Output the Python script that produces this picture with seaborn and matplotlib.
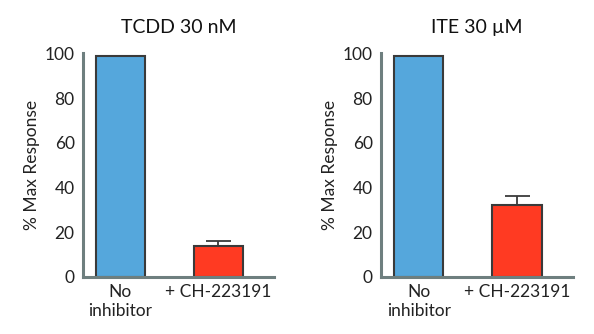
import matplotlib
matplotlib.use("Agg")
import matplotlib.pyplot as plt
import seaborn as sns
import pandas as pd

sns.set_style("white")
plt.rcParams["font.family"] = ["Lato", "DejaVu Sans"]

conditions = ["No\ninhibitor", "+ CH-223191"]
titles = ["TCDD 30 nM", "ITE 30 µM"]
tcdd_values = [99, 14]
tcdd_errors = [0, 2]
ite_values = [99, 32]
ite_errors = [0, 4]
y_ticks = [0, 20, 40, 60, 80, 100]

bar_colors = ["#55A7DC", "#FF3A22"]
spine_color = "#6E7F7F"
text_color = "#222222"

fig = plt.figure(figsize=(5.94, 3.34), dpi=100)
panels = [
    (fig.add_axes([0.1397, 0.1707, 0.3216, 0.6696]), titles[0], tcdd_values, tcdd_errors),
    (fig.add_axes([0.6414, 0.1707, 0.3232, 0.6696]), titles[1], ite_values, ite_errors),
]

for ax, title, values, errors in panels:
    df = pd.DataFrame({"condition": conditions, "response": values})
    sns.barplot(data=df, x="condition", y="response", hue="condition",
                palette=bar_colors, saturation=1, width=0.5,
                edgecolor="#3A3A3A", linewidth=1.5, errorbar=None,
                legend=False, ax=ax)
    for i, (v, e) in enumerate(zip(values, errors)):
        if e > 0:
            ax.errorbar(i, v, yerr=[[0], [e]], fmt="none", ecolor="#3A3A3A",
                        elinewidth=1.3, capsize=9, capthick=1.3, zorder=1)
    ax.set_ylim(0, 100)
    ax.set_xlim(-0.383, 1.57)
    ax.set_yticks(y_ticks)
    ax.set_title(title, fontsize=14, color="#111111", pad=15)
    ax.set_xlabel("")
    ax.set_ylabel("% Max Response", fontsize=12.5, color=text_color, labelpad=3)
    for side in ["top", "right"]:
        ax.spines[side].set_visible(False)
    for side in ["left", "bottom"]:
        ax.spines[side].set_color(spine_color)
        ax.spines[side].set_linewidth(2.2)
    ax.tick_params(axis="y", direction="out", length=5, width=1.5,
                   color=spine_color, labelsize=12.5, labelcolor=text_color, pad=1)
    ax.tick_params(axis="x", length=0, labelsize=12.5, labelcolor=text_color, pad=5)
    for lbl in ax.get_xticklabels():
        lbl.set_linespacing(1.2)

fig.savefig("out.png", dpi=100)
